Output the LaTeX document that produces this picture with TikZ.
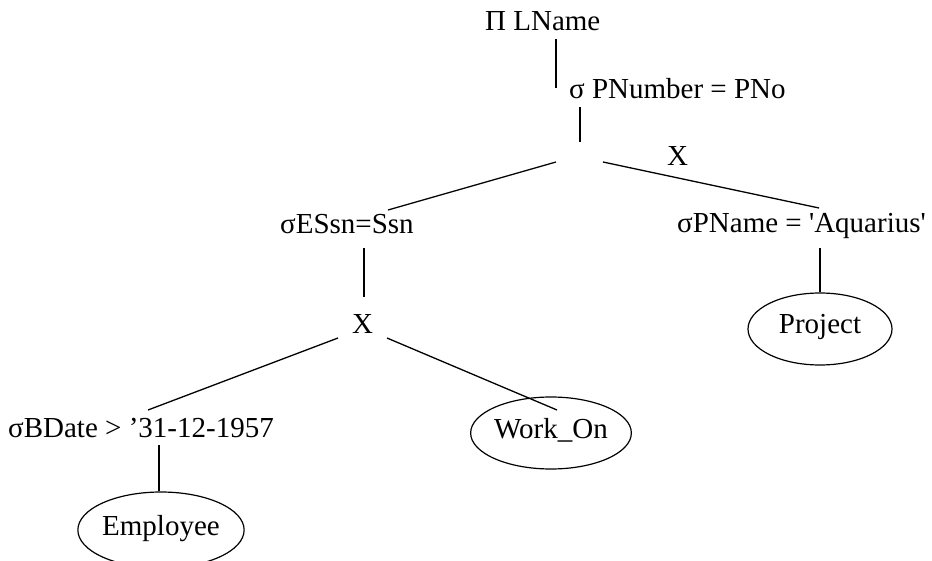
\documentclass[tikz,border=0pt]{standalone}
\usepackage{fontspec}
\setmainfont{Liberation Serif}[Ligatures=TeXOff]
\usetikzlibrary{shapes.geometric}
\begin{document}
\begin{tikzpicture}[x={(1pt,0)}, y={(0,-1pt)},
  op/.style={inner sep=0pt, anchor=base west, font=\fontsize{29}{33}\selectfont},
  rel/.style={draw, ellipse, inner sep=0pt, line width=1.2pt,
    font=\fontsize{29}{33}\selectfont, text height=14pt, text depth=4pt},
  edge/.style={line width=1.3pt}]
\useasboundingbox (0,0) rectangle (932,561);

% operators of the query tree
\node[op] (proj) at (485,31) {Π LName};
\node[op] (selp) at (569,99) {σ PNumber = PNo};
\node[op] (crossa) at (667,166) {X};
\node[op] (selssn) at (280,234) {σESsn=Ssn};
\node[op] (selname) at (677,233) {σPName = 'Aquarius'};
\node[op] (crossb) at (352,334) {X};
\node[op] (seldate) at (8,437) {σBDate > ’31-12-1957};

% base relations
\node[rel, minimum width=136pt, minimum height=72pt] (works) at (551,433) {Work\_On};
\node[rel, minimum width=144pt, minimum height=72pt] (project) at (820,329) {Project\hspace{14pt}};
\node[rel, minimum width=147pt, minimum height=76pt] (employee) at (161,530) {Employee};

% edge end points
\coordinate (proj-b) at (556,39);
\coordinate (selp-t) at (556,88);
\coordinate (selp-b) at (580,107);
\coordinate (crossa-t) at (580,142);
\coordinate (crossa-l) at (556,162);
\coordinate (selssn-t) at (388,210);
\coordinate (crossa-r) at (603,162);
\coordinate (selname-t) at (819,208);
\coordinate (selssn-b) at (364,248);
\coordinate (crossb-t) at (364,297);
\coordinate (crossb-l) at (338,338);
\coordinate (seldate-t) at (148,410);
\coordinate (crossb-r) at (387,338);
\coordinate (works-in) at (557,410);
\coordinate (seldate-b) at (159,445);
\coordinate (selname-b) at (820,248);

% edges
\draw[edge] (proj-b) -- (selp-t);
\draw[edge] (selp-b) -- (crossa-t);
\draw[edge] (crossa-l) -- (selssn-t);
\draw[edge] (crossa-r) -- (selname-t);
\draw[edge] (selssn-b) -- (crossb-t);
\draw[edge] (crossb-l) -- (seldate-t);
\draw[edge] (crossb-r) -- (works-in);
\draw[edge] (seldate-b) -- (seldate-b |- employee.north);
\draw[edge] (selname-b) -- (selname-b |- project.north);
\end{tikzpicture}
\end{document}
